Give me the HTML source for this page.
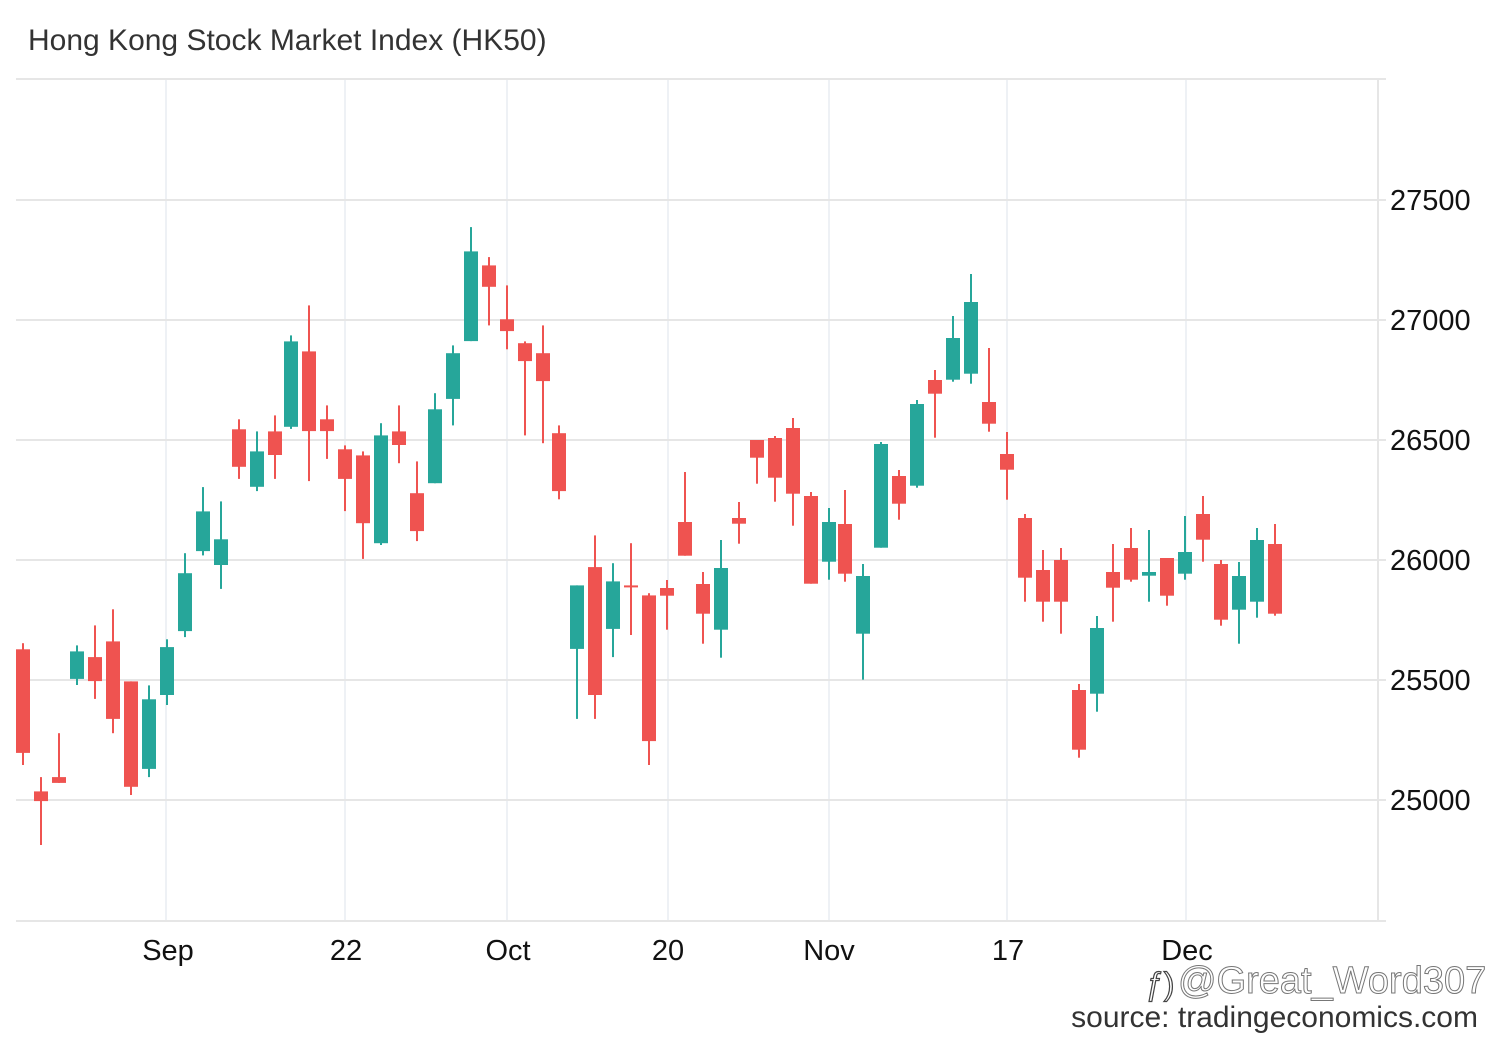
<!DOCTYPE html>
<html><head><meta charset="utf-8"><style>
html,body{margin:0;padding:0;background:#fff;}
svg{display:block;font-family:"Liberation Sans",Arial,sans-serif;}
.r{fill:#ef5350}.g{fill:#26a69a}
</style></head><body>
<svg width="1500" height="1040" viewBox="0 0 1500 1040" xmlns="http://www.w3.org/2000/svg">
<rect width="1500" height="1040" fill="#fff"/>
<text x="28" y="50" font-size="30" fill="#333">Hong Kong Stock Market Index (HK50)</text>
<g stroke="#eef1f5" stroke-width="2">
<line x1="166" y1="79" x2="166" y2="920"/><line x1="345" y1="79" x2="345" y2="920"/><line x1="507" y1="79" x2="507" y2="920"/><line x1="668" y1="79" x2="668" y2="920"/><line x1="829" y1="79" x2="829" y2="920"/><line x1="1007" y1="79" x2="1007" y2="920"/><line x1="1186" y1="79" x2="1186" y2="920"/>
</g>
<g stroke="#e6e6e6" stroke-width="2">
<line x1="16" y1="79" x2="1386" y2="79"/>
<line x1="16" y1="200" x2="1386" y2="200"/><line x1="16" y1="320" x2="1386" y2="320"/><line x1="16" y1="440" x2="1386" y2="440"/><line x1="16" y1="560" x2="1386" y2="560"/><line x1="16" y1="680" x2="1386" y2="680"/><line x1="16" y1="800" x2="1386" y2="800"/>
<line x1="16" y1="921" x2="1386" y2="921"/>
<line x1="1378" y1="79" x2="1378" y2="921"/>
</g>
<g font-size="29" fill="#111">
<text x="1390" y="210">27500</text><text x="1390" y="330">27000</text><text x="1390" y="450">26500</text><text x="1390" y="570">26000</text><text x="1390" y="690">25500</text><text x="1390" y="810">25000</text>
</g>
<g font-size="29" fill="#111" text-anchor="middle">
<text x="168" y="960">Sep</text><text x="346" y="960">22</text><text x="508" y="960">Oct</text><text x="668" y="960">20</text><text x="829" y="960">Nov</text><text x="1008" y="960">17</text><text x="1187" y="960">Dec</text>
</g>
<text x="1178" y="993" font-size="38" fill="#fff" stroke="#777" stroke-width="1">@Great_Word307</text>
<text x="1146" y="995" font-size="32" fill="#fff" stroke="#444" stroke-width="1.2">ƒ)</text>
<text x="1478" y="1027" font-size="30" fill="#333" text-anchor="end">source: tradingeconomics.com</text>
<g>
<rect class="r" x="22" y="643.2" width="2" height="121.8"/><rect class="r" x="16" y="649.3" width="14" height="103.6"/>
<rect class="r" x="40" y="777.1" width="2" height="67.9"/><rect class="r" x="34" y="791.4" width="14" height="9.7"/>
<rect class="r" x="58" y="733.2" width="2" height="49.7"/><rect class="r" x="52" y="777.1" width="14" height="5.8"/>
<rect class="g" x="76" y="645.4" width="2" height="39.6"/><rect class="g" x="70" y="651.4" width="14" height="27.5"/>
<rect class="r" x="94" y="625.4" width="2" height="73.5"/><rect class="r" x="88" y="657.1" width="14" height="24"/>
<rect class="r" x="112" y="609.3" width="2" height="123.9"/><rect class="r" x="106" y="641.4" width="14" height="77.5"/>
<rect class="r" x="130" y="681.4" width="2" height="113.6"/><rect class="r" x="124" y="681.4" width="14" height="105.4"/>
<rect class="g" x="148" y="685.4" width="2" height="91.7"/><rect class="g" x="142" y="699.3" width="14" height="69.6"/>
<rect class="g" x="166" y="639.3" width="2" height="65.7"/><rect class="g" x="160" y="647.1" width="14" height="47.9"/>
<rect class="g" x="184" y="553.2" width="2" height="83.9"/><rect class="g" x="178" y="573.2" width="14" height="57.9"/>
<rect class="g" x="202" y="487.1" width="2" height="68.3"/><rect class="g" x="196" y="511.4" width="14" height="39.7"/>
<rect class="g" x="220" y="501.4" width="2" height="87.5"/><rect class="g" x="214" y="539.3" width="14" height="25.7"/>
<rect class="r" x="238" y="419.3" width="2" height="59.6"/><rect class="r" x="232" y="429.3" width="14" height="37.5"/>
<rect class="g" x="256" y="431.4" width="2" height="59.7"/><rect class="g" x="250" y="451.4" width="14" height="35.4"/>
<rect class="r" x="274" y="415.4" width="2" height="63.5"/><rect class="r" x="268" y="431.4" width="14" height="23.6"/>
<rect class="g" x="290" y="335.4" width="2" height="93.5"/><rect class="g" x="284" y="341.4" width="14" height="85.4"/>
<rect class="r" x="308" y="305.4" width="2" height="175.7"/><rect class="r" x="302" y="351.4" width="14" height="79.7"/>
<rect class="r" x="326" y="405.4" width="2" height="53.5"/><rect class="r" x="320" y="419.3" width="14" height="11.8"/>
<rect class="r" x="344" y="445.4" width="2" height="65.7"/><rect class="r" x="338" y="449.3" width="14" height="29.6"/>
<rect class="r" x="362" y="451.4" width="2" height="107.5"/><rect class="r" x="356" y="455.4" width="14" height="67.8"/>
<rect class="g" x="380" y="423.2" width="2" height="121.8"/><rect class="g" x="374" y="435.4" width="14" height="107.8"/>
<rect class="r" x="398" y="405.4" width="2" height="57.8"/><rect class="r" x="392" y="431.4" width="14" height="13.6"/>
<rect class="r" x="416" y="461.4" width="2" height="79.7"/><rect class="r" x="410" y="493.2" width="14" height="37.9"/>
<rect class="g" x="434" y="393.2" width="2" height="90"/><rect class="g" x="428" y="409.3" width="14" height="73.9"/>
<rect class="g" x="452" y="345.4" width="2" height="80"/><rect class="g" x="446" y="353.2" width="14" height="45.7"/>
<rect class="g" x="470" y="227.1" width="2" height="114"/><rect class="g" x="464" y="251.4" width="14" height="89.7"/>
<rect class="r" x="488" y="257.1" width="2" height="68.3"/><rect class="r" x="482" y="265.4" width="14" height="21.4"/>
<rect class="r" x="506" y="285.4" width="2" height="63.9"/><rect class="r" x="500" y="319.3" width="14" height="11.8"/>
<rect class="r" x="524" y="341.4" width="2" height="94"/><rect class="r" x="518" y="343.2" width="14" height="17.9"/>
<rect class="r" x="542" y="325.4" width="2" height="117.8"/><rect class="r" x="536" y="353.2" width="14" height="27.9"/>
<rect class="r" x="558" y="425.4" width="2" height="73.9"/><rect class="r" x="552" y="433.2" width="14" height="57.9"/>
<rect class="g" x="576" y="585.4" width="2" height="133.5"/><rect class="g" x="570" y="585.4" width="14" height="63.5"/>
<rect class="r" x="594" y="535.4" width="2" height="183.5"/><rect class="r" x="588" y="567.1" width="14" height="127.9"/>
<rect class="g" x="612" y="563.2" width="2" height="93.9"/><rect class="g" x="606" y="581.4" width="14" height="47.5"/>
<rect class="r" x="630" y="543.2" width="2" height="91.8"/><rect class="r" x="624" y="585.4" width="14" height="2"/>
<rect class="r" x="648" y="593.2" width="2" height="171.8"/><rect class="r" x="642" y="595.4" width="14" height="145.7"/>
<rect class="r" x="666" y="580" width="2" height="49.7"/><rect class="r" x="660" y="588" width="14" height="7.7"/>
<rect class="r" x="684" y="472" width="2" height="83.7"/><rect class="r" x="678" y="522" width="14" height="33.7"/>
<rect class="r" x="702" y="572" width="2" height="71.7"/><rect class="r" x="696" y="584" width="14" height="29.7"/>
<rect class="g" x="720" y="540" width="2" height="117.7"/><rect class="g" x="714" y="568" width="14" height="61.7"/>
<rect class="r" x="738" y="502" width="2" height="41.7"/><rect class="r" x="732" y="518" width="14" height="5.7"/>
<rect class="r" x="756" y="440" width="2" height="43.7"/><rect class="r" x="750" y="440" width="14" height="17.7"/>
<rect class="r" x="774" y="436" width="2" height="65.7"/><rect class="r" x="768" y="438" width="14" height="39.7"/>
<rect class="r" x="792" y="418" width="2" height="107.7"/><rect class="r" x="786" y="428" width="14" height="65.7"/>
<rect class="r" x="810" y="492" width="2" height="91.7"/><rect class="r" x="804" y="496" width="14" height="87.7"/>
<rect class="g" x="828" y="508" width="2" height="71.7"/><rect class="g" x="822" y="522" width="14" height="39.7"/>
<rect class="r" x="844" y="490" width="2" height="91.7"/><rect class="r" x="838" y="524" width="14" height="49.7"/>
<rect class="g" x="862" y="564" width="2" height="115.7"/><rect class="g" x="856" y="576" width="14" height="57.7"/>
<rect class="g" x="880" y="442" width="2" height="105.7"/><rect class="g" x="874" y="444" width="14" height="103.7"/>
<rect class="r" x="898" y="470" width="2" height="49.7"/><rect class="r" x="892" y="476" width="14" height="27.7"/>
<rect class="g" x="916" y="400" width="2" height="87.7"/><rect class="g" x="910" y="404" width="14" height="81.7"/>
<rect class="r" x="934" y="370" width="2" height="67.7"/><rect class="r" x="928" y="380" width="14" height="13.7"/>
<rect class="g" x="952" y="316" width="2" height="65.7"/><rect class="g" x="946" y="338" width="14" height="41.7"/>
<rect class="g" x="970" y="274" width="2" height="109.7"/><rect class="g" x="964" y="302" width="14" height="71.7"/>
<rect class="r" x="988" y="348" width="2" height="83.7"/><rect class="r" x="982" y="402" width="14" height="21.7"/>
<rect class="r" x="1006" y="432" width="2" height="67.7"/><rect class="r" x="1000" y="454" width="14" height="15.7"/>
<rect class="r" x="1024" y="514" width="2" height="87.7"/><rect class="r" x="1018" y="518" width="14" height="59.7"/>
<rect class="r" x="1042" y="550" width="2" height="71.7"/><rect class="r" x="1036" y="570" width="14" height="31.7"/>
<rect class="r" x="1060" y="548" width="2" height="85.7"/><rect class="r" x="1054" y="560" width="14" height="41.7"/>
<rect class="r" x="1078" y="684" width="2" height="73.7"/><rect class="r" x="1072" y="690" width="14" height="59.7"/>
<rect class="g" x="1096" y="616" width="2" height="95.7"/><rect class="g" x="1090" y="628" width="14" height="65.7"/>
<rect class="r" x="1112" y="544" width="2" height="77.7"/><rect class="r" x="1106" y="572" width="14" height="15.7"/>
<rect class="r" x="1130" y="528" width="2" height="53.7"/><rect class="r" x="1124" y="548" width="14" height="31.7"/>
<rect class="g" x="1148" y="530" width="2" height="71.7"/><rect class="g" x="1142" y="572" width="14" height="3.7"/>
<rect class="r" x="1166" y="558" width="2" height="47.7"/><rect class="r" x="1160" y="558" width="14" height="37.7"/>
<rect class="g" x="1184" y="516" width="2" height="63.7"/><rect class="g" x="1178" y="552" width="14" height="21.7"/>
<rect class="r" x="1202" y="496" width="2" height="65.7"/><rect class="r" x="1196" y="514" width="14" height="25.7"/>
<rect class="r" x="1220" y="560" width="2" height="65.7"/><rect class="r" x="1214" y="564" width="14" height="55.7"/>
<rect class="g" x="1238" y="562" width="2" height="81.7"/><rect class="g" x="1232" y="576" width="14" height="33.7"/>
<rect class="g" x="1256" y="528" width="2" height="89.7"/><rect class="g" x="1250" y="540" width="14" height="61.7"/>
<rect class="r" x="1274" y="524" width="2" height="91.7"/><rect class="r" x="1268" y="544" width="14" height="69.7"/>
</g>
</svg>
</body></html>
